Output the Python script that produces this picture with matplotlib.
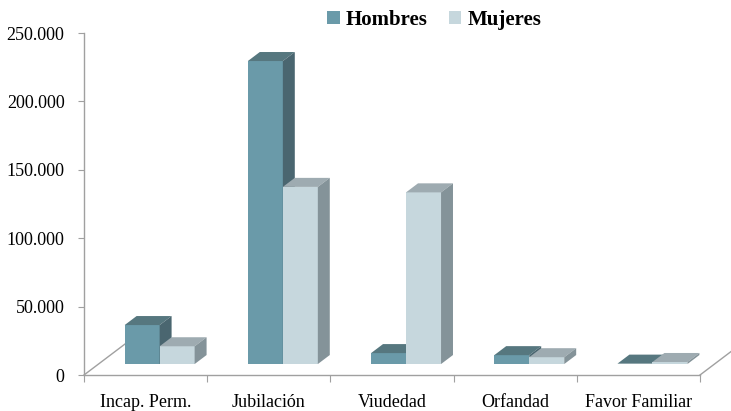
import numpy as np
import matplotlib.pyplot as plt
from matplotlib.patches import Polygon, Patch
from matplotlib.ticker import FuncFormatter

# data
categorias = ['Incap. Perm.', 'Jubilación', 'Viudedad', 'Orfandad', 'Favor Familiar']
hombres = [28500, 221500, 8000, 6500, 300]
mujeres = [13000, 129500, 125500, 5000, 1500]
series = ['Hombres', 'Mujeres']

# colours: front, top, side
col_h = ('#6a9aa9', '#56777f', '#4a6670')
col_m = ('#c6d7dd', '#9eabb1', '#849399')

# fake 3d geometry (data units)
floor = 8000        # bars sit a bit "behind" the front edge
ddx, ddy = 0.097, 6600   # depth of the bars
fdx, fdy = 0.36, 24500   # depth of the floor
w = 0.284
off = -0.17

plt.rcParams['font.family'] = ['Liberation Serif', 'DejaVu Serif']

fig = plt.figure(figsize=(7.31, 4.11), dpi=100)
ax = fig.add_axes([84/731, 36/411, 616/731, 342/411])

x = np.arange(len(categorias))


def bar3d(left, vals, cols, z):
    bottom = floor
    ax.bar(left, vals, width=w, bottom=bottom, align='edge', color=cols[0],
           edgecolor='none', zorder=z)
    for xl, v in zip(left, vals):
        t = bottom + v
        top = Polygon([(xl, t), (xl + w, t), (xl + w + ddx, t + ddy), (xl + ddx, t + ddy)],
                      closed=True, facecolor=cols[1], edgecolor='none', zorder=z)
        side = Polygon([(xl + w, bottom), (xl + w + ddx, bottom + ddy),
                        (xl + w + ddx, t + ddy), (xl + w, t)],
                       closed=True, facecolor=cols[2], edgecolor='none', zorder=z)
        ax.add_patch(top)
        ax.add_patch(side)


# floor diagonals (behind bars)
for xb in (-0.5, len(categorias) - 0.5):
    ax.plot([xb, xb + fdx], [0, fdy], color='#a0a0a0', lw=1, clip_on=False, zorder=1)

bar3d(x + off, hombres, col_h, 3)
bar3d(x + off + w, mujeres, col_m, 4)

ax.set_xlim(-0.5, len(categorias) - 0.5)
ax.set_ylim(0, 250000)
ax.set_yticks(np.arange(0, 250001, 50000))
ax.yaxis.set_major_formatter(FuncFormatter(lambda v, p: f'{int(v):,}'.replace(',', '.')))

ax.set_xticks(np.arange(-0.5, len(categorias), 1.0))
ax.set_xticklabels([])
ax.set_xticks(x, minor=True)
ax.set_xticklabels(categorias, minor=True, fontsize=13)
ax.tick_params(axis='x', which='minor', length=0, pad=14)
ax.tick_params(axis='x', which='major', length=5, color='#a0a0a0', direction='out')
ax.tick_params(axis='y', length=4, color='#a0a0a0', labelsize=13, pad=10)

for s in ('top', 'right'):
    ax.spines[s].set_visible(False)
for s in ('left', 'bottom'):
    ax.spines[s].set_color('#a0a0a0')
    ax.spines[s].set_linewidth(1)
    ax.spines[s].set_zorder(2)

handles = [Patch(facecolor=col_h[0]), Patch(facecolor=col_m[0])]
fig.legend(handles, series, loc='center', bbox_to_anchor=(0.594, 0.951), ncol=2,
           frameon=False, prop={'weight': 'bold', 'size': 15},
           handlelength=0.6, handleheight=0.6, handletextpad=0.3, columnspacing=1.0)

fig.savefig('out.png', dpi=100)
